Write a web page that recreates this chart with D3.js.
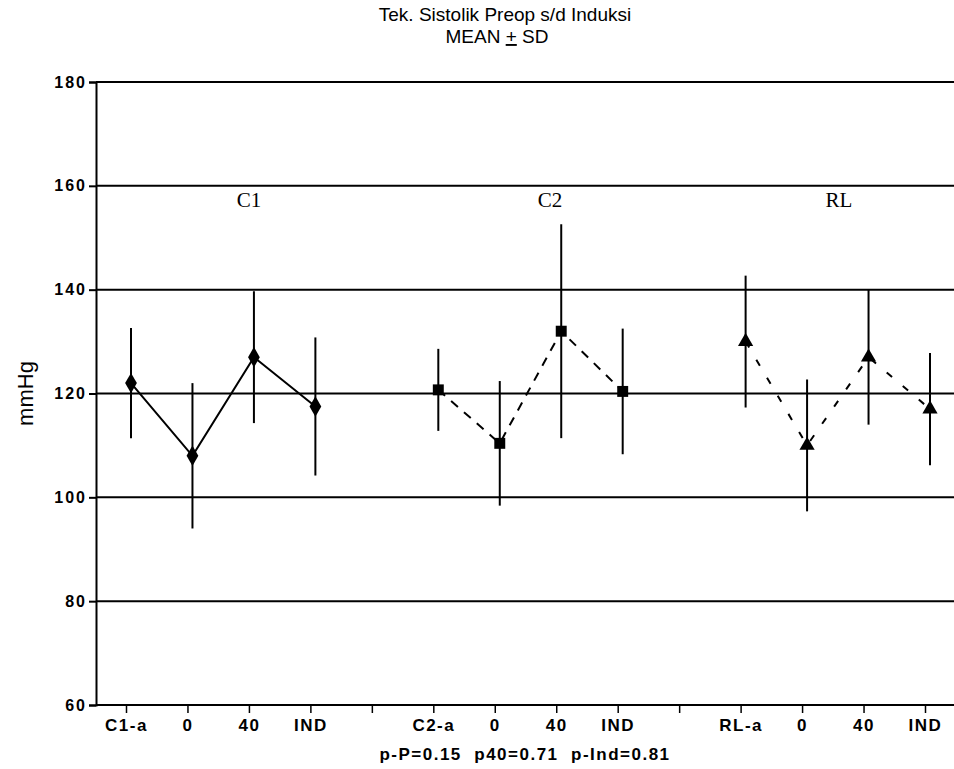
<!DOCTYPE html>
<html>
<head>
<meta charset="utf-8">
<script src="https://cdn.jsdelivr.net/npm/d3@7"></script>
<style>
  html, body { margin: 0; padding: 0; background: #fff; }
  svg { display: block; }
  text { fill: #000; }
</style>
</head>
<body>
<div id="chart"></div>
<script>
// ---- data ----
const titleLine1 = "Tek. Sistolik Preop s/d Induksi";
const titleLine2 = ["MEAN ", "+", " SD"];
const yLabel = "mmHg";
const footnote = "p-P=0.15  p40=0.71  p-Ind=0.81";
const xTickLabels = ["C1-a", "0", "40", "IND", "", "C2-a", "0", "40", "IND", "", "RL-a", "0", "40", "IND"];
const yTicks = [60, 80, 100, 120, 140, 160, 180];
const groupNames = ["C1", "C2", "RL"];
const groupStart = [0, 5, 10];
const groupLabelAt = [2.0, 6.9, 11.6];
const c1Mean = [122, 108, 127, 117.5];
const c1SD   = [10.6, 14, 12.7, 13.3];
const c2Mean = [120.7, 110.4, 132, 120.4];
const c2SD   = [7.9, 12, 20.6, 12.1];
const rlMean = [130, 110, 127, 117];
const rlSD   = [12.7, 12.7, 13, 10.8];

// ---- layout ----
const W = 954, H = 769;
const plotLeft = 96, plotRight = 954;
const svg = d3.select("#chart").append("svg").attr("width", W).attr("height", H);

const y = d3.scaleLinear().domain([60, 180]).range([705, 82]);
const x = d3.scaleLinear().domain([0, 13]).range([126, 925]);
const markerDx = 5;

const sans = "'Liberation Sans', Arial, Helvetica, sans-serif";
const serif = "'Liberation Serif', 'Times New Roman', serif";

// title
svg.append("text").attr("x", 505).attr("y", 21).attr("text-anchor", "middle")
  .attr("font-family", sans).attr("font-size", 19).text(titleLine1);
const t2 = svg.append("text").attr("x", 497).attr("y", 43).attr("text-anchor", "middle")
  .attr("font-family", sans).attr("font-size", 19);
t2.append("tspan").text(titleLine2[0]);
t2.append("tspan").attr("text-decoration", "underline").text(titleLine2[1]);
t2.append("tspan").text(titleLine2[2]);

// gridlines
svg.append("g").selectAll("line").data(yTicks).join("line")
  .attr("x1", plotLeft).attr("x2", plotRight)
  .attr("y1", d => y(d)).attr("y2", d => y(d))
  .attr("stroke", "#000").attr("stroke-width", 2);

// y axis
const yAxis = svg.append("g").attr("transform", `translate(${plotLeft},0)`)
  .call(d3.axisLeft(y).tickValues(yTicks).tickSize(7).tickPadding(2).tickFormat(d3.format("d")));
yAxis.select(".domain").attr("stroke-width", 2);
yAxis.selectAll(".tick line").attr("stroke-width", 2);
yAxis.selectAll("text").attr("font-family", sans).attr("font-size", 16)
  .attr("font-weight", "bold").attr("letter-spacing", 2);

// x axis
const xAxis = svg.append("g").attr("transform", `translate(0,${y(60)})`)
  .call(d3.axisBottom(x).tickValues(d3.range(14)).tickSize(8).tickPadding(6)
    .tickFormat((d, i) => xTickLabels[i]));
xAxis.select(".domain").attr("d", `M${plotLeft},0H${plotRight}`).attr("stroke-width", 2);
xAxis.selectAll(".tick line").attr("stroke-width", 1.5);
xAxis.selectAll("text").attr("font-family", sans).attr("font-size", 17)
  .attr("font-weight", "bold").attr("letter-spacing", 1.5);

// y label
svg.append("text").attr("transform", `translate(33,${y(120)}) rotate(-90)`)
  .attr("text-anchor", "middle").attr("font-family", sans).attr("font-size", 22).text(yLabel);

// footnote
svg.append("text").attr("x", 525).attr("y", 760).attr("text-anchor", "middle")
  .attr("font-family", sans).attr("font-size", 17).attr("font-weight", "bold")
  .attr("letter-spacing", 1.5)
  .attr("xml:space", "preserve").style("white-space", "pre").text(footnote);

// group labels
svg.append("g").selectAll("text").data(groupNames).join("text")
  .attr("x", (d, i) => x(groupLabelAt[i]))
  .attr("y", 207).attr("text-anchor", "middle")
  .attr("font-family", serif).attr("font-size", 21).text(d => d);

// series
const series = [
  { mean: c1Mean, sd: c1SD, start: groupStart[0], symbol: d3.symbolDiamond, size: 120, dash: null, lw: 2 },
  { mean: c2Mean, sd: c2SD, start: groupStart[1], symbol: d3.symbolSquare, size: 120, dash: "9,8", lw: 2 },
  { mean: rlMean, sd: rlSD, start: groupStart[2], symbol: d3.symbolTriangle, size: 100, dash: "7,14", lw: 2 }
];

series.forEach(s => {
  const pts = s.mean.map((m, i) => ({ xi: s.start + i, m, sd: s.sd[i] }));
  const g = svg.append("g");
  // error bars
  g.selectAll("line.err").data(pts).join("line").attr("class", "err")
    .attr("x1", d => x(d.xi) + markerDx).attr("x2", d => x(d.xi) + markerDx)
    .attr("y1", d => y(d.m + d.sd)).attr("y2", d => y(d.m - d.sd))
    .attr("stroke", "#000").attr("stroke-width", 2);
  // connecting line
  const line = d3.line().x(d => x(d.xi) + markerDx).y(d => y(d.m));
  g.append("path").datum(pts).attr("d", line).attr("fill", "none")
    .attr("stroke", "#000").attr("stroke-width", s.lw)
    .attr("stroke-dasharray", s.dash);
  // markers
  g.selectAll("path.mk").data(pts).join("path").attr("class", "mk")
    .attr("transform", d => `translate(${x(d.xi) + markerDx},${y(d.m)})`)
    .attr("d", d3.symbol().type(s.symbol).size(s.size))
    .attr("fill", "#000");
});
</script>
</body>
</html>
